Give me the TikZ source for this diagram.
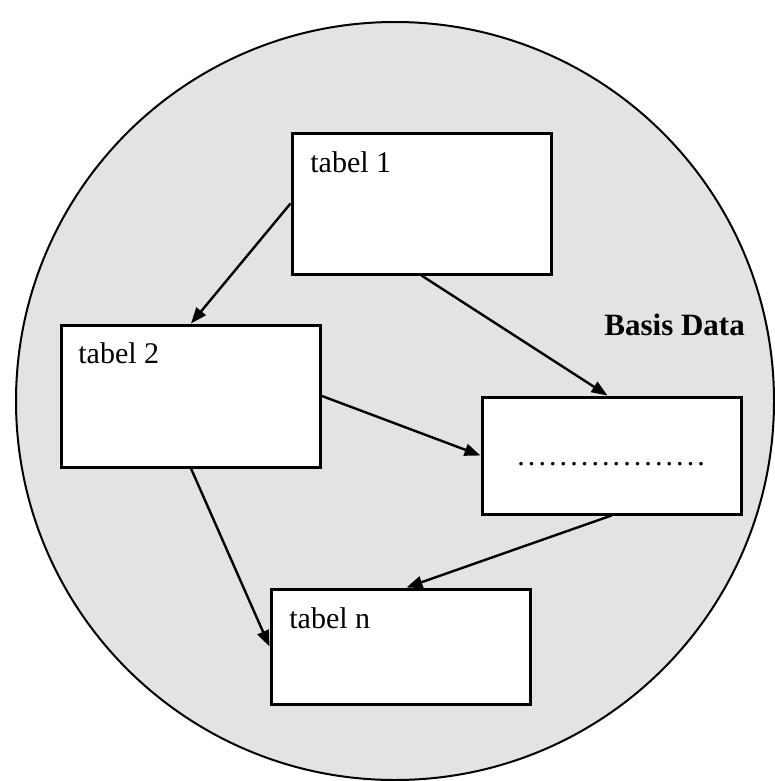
\documentclass[tikz,border=0pt]{standalone}
\usepackage{fontspec}
\setmainfont{Liberation Serif}
\usetikzlibrary{arrows.meta,calc}
\definecolor{dbgrey}{RGB}{227,227,227}
\tikzset{
  tablebox/.style={draw, line width=1.5pt, fill=white, rectangle, inner sep=0pt,
    minimum width=129.5pt},
  label/.style={anchor=base west, inner sep=0pt, font=\fontsize{15pt}{18pt}\selectfont},
  link/.style={line width=1.2pt, -{Triangle[length=8pt,width=6pt]}},
}
\begin{document}
\begin{tikzpicture}[x=0.5pt, y=-0.5pt]
  \useasboundingbox (0,0) rectangle (775,781);
  % the database
  \node[draw, line width=1pt, fill=dbgrey, circle, minimum size=758pt*0.5, inner sep=0pt] (db) at (395,401) {};
  \node[anchor=base west, inner sep=0pt, font=\fontsize{15.5pt}{18pt}\selectfont\bfseries] (dblabel) at (604,335) {Basis Data};

  % tables
  \node[tablebox, minimum height=70.5pt] (t1) at (421.5,203.5) {};
  \node[tablebox, minimum height=71pt] (t2) at (191,396) {};
  \node[tablebox, minimum height=58.5pt] (td) at (611.5,455.5) {};
  \node[tablebox, minimum height=57.5pt] (tn) at (400.5,646.5) {};

  \node[label] (t1l) at (310,172) {tabel 1};
  \node[label] (t2l) at (78,363) {tabel 2};
  \node[label] (tnl) at (289,628) {tabel n};
  \node[label, font=\fontsize{15pt}{18pt}\selectfont\addfontfeature{LetterSpace=10.3}] (tdl) at (517,465) {..................};

  % relations
  \draw[link] (t1.west) -- (t2.north);
  \draw[link] (t1.south) -- ([xshift=-2pt]td.north);
  \draw[link] (t2.east) -- (td.west);
  \draw[link] (t2.south) -- (tn.west);
  \draw[link] (td.south) -- ([xshift=3pt]tn.north);
\end{tikzpicture}
\end{document}
